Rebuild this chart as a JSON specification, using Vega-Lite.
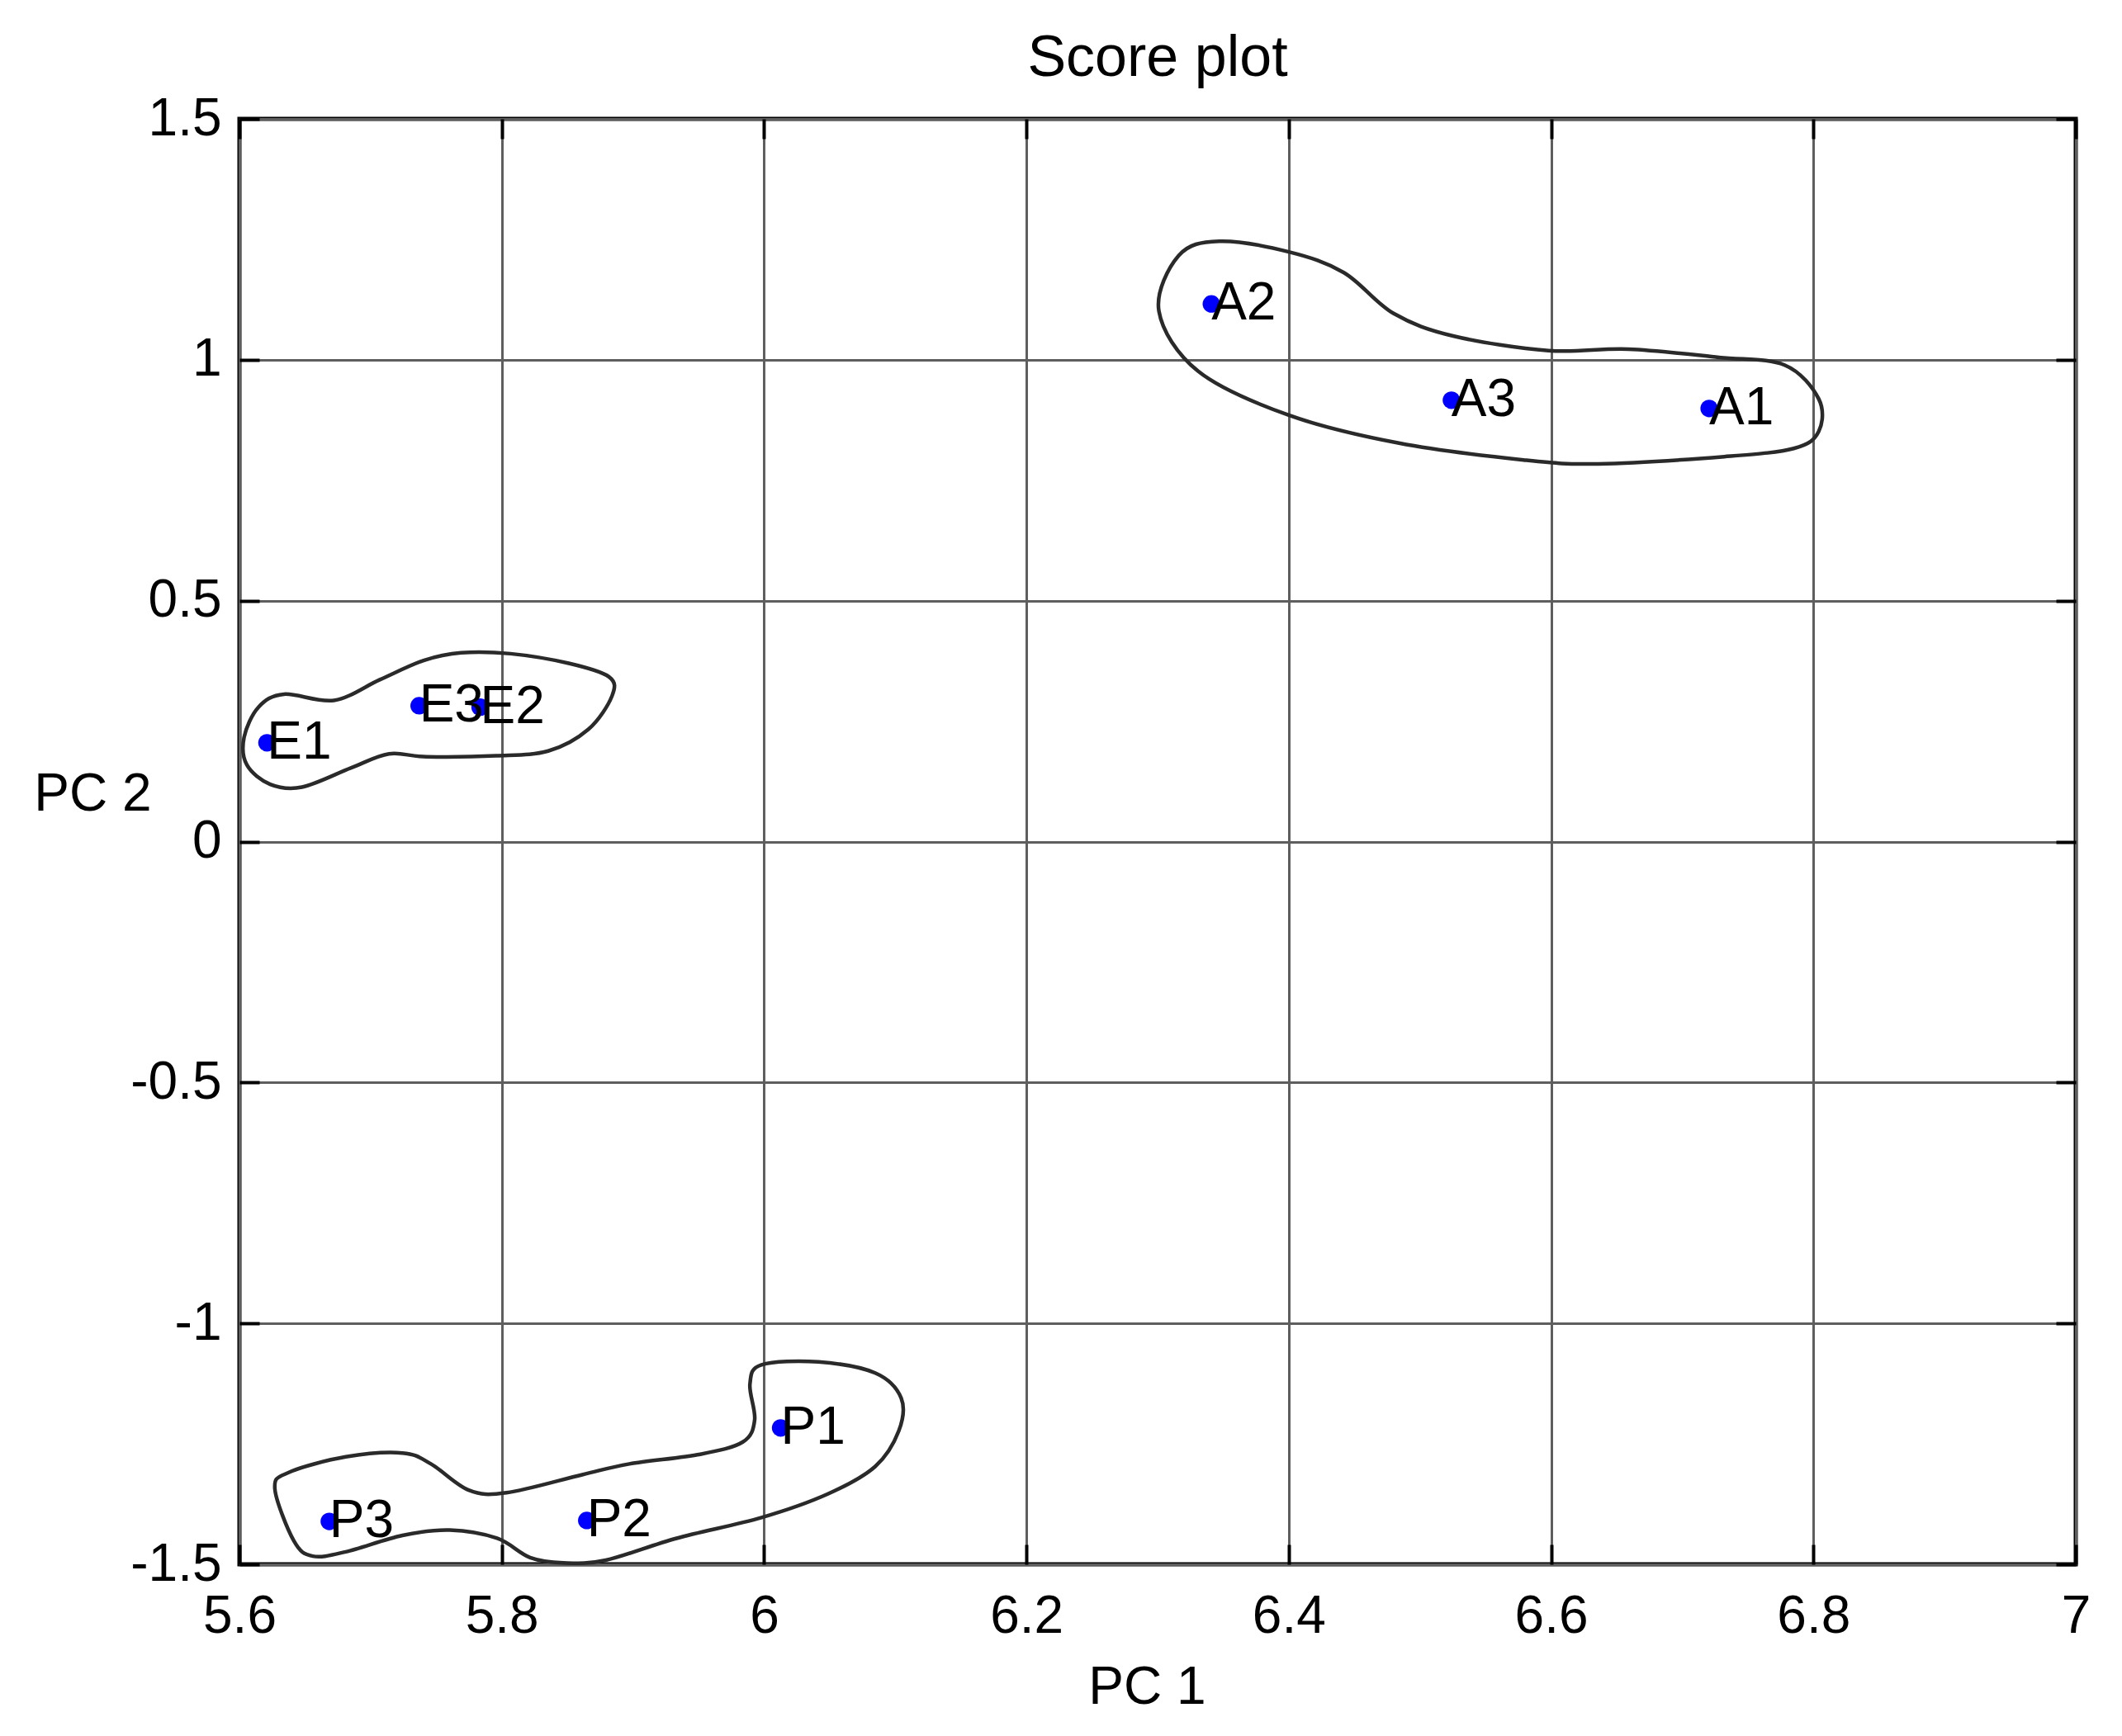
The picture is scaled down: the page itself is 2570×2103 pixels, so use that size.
{
  "$schema": "https://vega.github.io/schema/vega-lite/v6.json",
  "width": 2224,
  "height": 1751,
  "autosize": {"type": "none"},
  "padding": {"left": 290, "top": 144, "right": 56, "bottom": 208},
  "background": "white",
  "config": {
    "view": {"stroke": "black", "strokeWidth": 5},
    "axis": {"labelColor": "black", "titleColor": "black", "titleFontWeight": "normal"}
  },
  "title": {
    "text": "Score plot",
    "font": "Liberation Sans",
    "fontSize": 70,
    "fontWeight": "normal",
    "color": "black",
    "anchor": "middle",
    "frame": "group",
    "baseline": "alphabetic",
    "offset": -50
  },
  "datasets": {
    "points": [
      {"label": "A1", "pc1": 6.7205, "pc2": 0.899},
      {"label": "A2", "pc1": 6.341, "pc2": 1.116},
      {"label": "A3", "pc1": 6.524, "pc2": 0.916},
      {"label": "E1", "pc1": 5.621, "pc2": 0.205},
      {"label": "E2", "pc1": 5.7835, "pc2": 0.279},
      {"label": "E3", "pc1": 5.737, "pc2": 0.282},
      {"label": "P1", "pc1": 6.0126, "pc2": -1.217},
      {"label": "P2", "pc1": 5.8648, "pc2": -1.409},
      {"label": "P3", "pc1": 5.6685, "pc2": -1.411}
    ],
    "loops": [
      {"group": "A", "order": 1, "pc1": 6.347, "pc2": 1.246},
      {"group": "A", "order": 2, "pc1": 6.400, "pc2": 1.224},
      {"group": "A", "order": 3, "pc1": 6.442, "pc2": 1.181},
      {"group": "A", "order": 4, "pc1": 6.480, "pc2": 1.096},
      {"group": "A", "order": 5, "pc1": 6.526, "pc2": 1.049},
      {"group": "A", "order": 6, "pc1": 6.598, "pc2": 1.019},
      {"group": "A", "order": 7, "pc1": 6.659, "pc2": 1.022},
      {"group": "A", "order": 8, "pc1": 6.728, "pc2": 1.005},
      {"group": "A", "order": 9, "pc1": 6.778, "pc2": 0.989},
      {"group": "A", "order": 10, "pc1": 6.804, "pc2": 0.919},
      {"group": "A", "order": 11, "pc1": 6.804, "pc2": 0.851},
      {"group": "A", "order": 12, "pc1": 6.785, "pc2": 0.816},
      {"group": "A", "order": 13, "pc1": 6.732, "pc2": 0.799},
      {"group": "A", "order": 14, "pc1": 6.636, "pc2": 0.784},
      {"group": "A", "order": 15, "pc1": 6.579, "pc2": 0.792},
      {"group": "A", "order": 16, "pc1": 6.484, "pc2": 0.827},
      {"group": "A", "order": 17, "pc1": 6.400, "pc2": 0.885},
      {"group": "A", "order": 18, "pc1": 6.331, "pc2": 0.976},
      {"group": "A", "order": 19, "pc1": 6.301, "pc2": 1.101},
      {"group": "A", "order": 20, "pc1": 6.316, "pc2": 1.216},
      {"group": "E", "order": 1, "pc1": 5.6035, "pc2": 0.216},
      {"group": "E", "order": 2, "pc1": 5.6145, "pc2": 0.279},
      {"group": "E", "order": 3, "pc1": 5.634, "pc2": 0.306},
      {"group": "E", "order": 4, "pc1": 5.672, "pc2": 0.293},
      {"group": "E", "order": 5, "pc1": 5.707, "pc2": 0.336},
      {"group": "E", "order": 6, "pc1": 5.7404, "pc2": 0.376},
      {"group": "E", "order": 7, "pc1": 5.769, "pc2": 0.392},
      {"group": "E", "order": 8, "pc1": 5.8067, "pc2": 0.390},
      {"group": "E", "order": 9, "pc1": 5.851, "pc2": 0.370},
      {"group": "E", "order": 10, "pc1": 5.8817, "pc2": 0.342},
      {"group": "E", "order": 11, "pc1": 5.884, "pc2": 0.302},
      {"group": "E", "order": 12, "pc1": 5.866, "pc2": 0.233},
      {"group": "E", "order": 13, "pc1": 5.8354, "pc2": 0.188},
      {"group": "E", "order": 14, "pc1": 5.7956, "pc2": 0.178},
      {"group": "E", "order": 15, "pc1": 5.7426, "pc2": 0.176},
      {"group": "E", "order": 16, "pc1": 5.714, "pc2": 0.182},
      {"group": "E", "order": 17, "pc1": 5.6852, "pc2": 0.153},
      {"group": "E", "order": 18, "pc1": 5.6477, "pc2": 0.113},
      {"group": "E", "order": 19, "pc1": 5.6234, "pc2": 0.119},
      {"group": "E", "order": 20, "pc1": 5.6057, "pc2": 0.159},
      {"group": "P", "order": 1, "pc1": 5.998, "pc2": -1.086},
      {"group": "P", "order": 2, "pc1": 6.0414, "pc2": -1.080},
      {"group": "P", "order": 3, "pc1": 6.0847, "pc2": -1.103},
      {"group": "P", "order": 4, "pc1": 6.1045, "pc2": -1.155},
      {"group": "P", "order": 5, "pc1": 6.1027, "pc2": -1.223},
      {"group": "P", "order": 6, "pc1": 6.0847, "pc2": -1.297},
      {"group": "P", "order": 7, "pc1": 6.0486, "pc2": -1.354},
      {"group": "P", "order": 8, "pc1": 5.998, "pc2": -1.403},
      {"group": "P", "order": 9, "pc1": 5.9333, "pc2": -1.446},
      {"group": "P", "order": 10, "pc1": 5.8793, "pc2": -1.4915},
      {"group": "P", "order": 11, "pc1": 5.8468, "pc2": -1.497},
      {"group": "P", "order": 12, "pc1": 5.8216, "pc2": -1.486},
      {"group": "P", "order": 13, "pc1": 5.7964, "pc2": -1.446},
      {"group": "P", "order": 14, "pc1": 5.7604, "pc2": -1.429},
      {"group": "P", "order": 15, "pc1": 5.7243, "pc2": -1.440},
      {"group": "P", "order": 16, "pc1": 5.6811, "pc2": -1.474},
      {"group": "P", "order": 17, "pc1": 5.6559, "pc2": -1.483},
      {"group": "P", "order": 18, "pc1": 5.6415, "pc2": -1.4515},
      {"group": "P", "order": 19, "pc1": 5.627, "pc2": -1.343},
      {"group": "P", "order": 20, "pc1": 5.6379, "pc2": -1.309},
      {"group": "P", "order": 21, "pc1": 5.6811, "pc2": -1.277},
      {"group": "P", "order": 22, "pc1": 5.7243, "pc2": -1.269},
      {"group": "P", "order": 23, "pc1": 5.746, "pc2": -1.2916},
      {"group": "P", "order": 24, "pc1": 5.7748, "pc2": -1.346},
      {"group": "P", "order": 25, "pc1": 5.8036, "pc2": -1.3515},
      {"group": "P", "order": 26, "pc1": 5.8613, "pc2": -1.314},
      {"group": "P", "order": 27, "pc1": 5.8973, "pc2": -1.2916},
      {"group": "P", "order": 28, "pc1": 5.9513, "pc2": -1.2716},
      {"group": "P", "order": 29, "pc1": 5.9838, "pc2": -1.246},
      {"group": "P", "order": 30, "pc1": 5.9928, "pc2": -1.200},
      {"group": "P", "order": 31, "pc1": 5.9892, "pc2": -1.126}
    ]
  },
  "resolve": {"axis": {"x": "independent", "y": "independent"}},
  "layer": [
    {
      "data": {"name": "loops"},
      "mark": {"type": "line", "interpolate": "cardinal-closed", "color": "#2a2a2a", "strokeWidth": 4.5},
      "encoding": {
        "x": {
          "field": "pc1", "type": "quantitative",
          "scale": {"domain": [5.6, 7], "nice": false, "zero": false},
          "axis": {
            "orient": "bottom",
            "values": [5.6, 5.8, 6, 6.2, 6.4, 6.6, 6.8, 7],
            "labelExpr": "'' + datum.value",
            "grid": true, "gridColor": "#5e5e5e", "gridWidth": 3,
            "domain": false,
            "tickSize": -24, "tickColor": "black", "tickWidth": 4,
            "labelFont": "Liberation Sans",
            "labelFontSize": 64, "labelPadding": 106, "labelBaseline": "alphabetic",
            "labelFlush": false, "labelOverlap": false,
            "title": "PC 1",
            "titleFont": "Liberation Sans",
            "titleFontSize": 64, "titleX": 1099, "titleY": 168,
            "titleAlign": "center", "titleBaseline": "alphabetic"
          }
        },
        "y": {
          "field": "pc2", "type": "quantitative",
          "scale": {"domain": [-1.5, 1.5], "nice": false, "zero": false},
          "axis": {
            "orient": "left",
            "values": [-1.5, -1, -0.5, 0, 0.5, 1, 1.5],
            "labelExpr": "'' + datum.value",
            "grid": true, "gridColor": "#5e5e5e", "gridWidth": 3,
            "domain": false,
            "tickSize": -24, "tickColor": "black", "tickWidth": 4,
            "labelFont": "Liberation Sans",
            "labelFontSize": 64, "labelPadding": 46,
            "labelFlush": false, "labelOverlap": false,
            "title": "PC 2",
            "titleFont": "Liberation Sans",
            "titleFontSize": 64, "titleAngle": 0, "titleX": -178, "titleY": 818,
            "titleAlign": "center", "titleBaseline": "middle"
          }
        },
        "detail": {"field": "group", "type": "nominal"},
        "order": {"field": "order", "type": "quantitative"}
      }
    },
    {
      "data": {"name": "points"},
      "mark": {"type": "circle", "color": "#0000ff", "opacity": 1, "size": 450},
      "encoding": {
        "x": {
          "field": "pc1", "type": "quantitative",
          "axis": {
            "orient": "top",
            "values": [5.6, 5.8, 6, 6.2, 6.4, 6.6, 6.8, 7],
            "labels": false, "grid": false, "domain": false, "title": null,
            "tickSize": -24, "tickColor": "black", "tickWidth": 4
          }
        },
        "y": {
          "field": "pc2", "type": "quantitative",
          "axis": {
            "orient": "right",
            "values": [-1.5, -1, -0.5, 0, 0.5, 1, 1.5],
            "labels": false, "grid": false, "domain": false, "title": null,
            "tickSize": -24, "tickColor": "black", "tickWidth": 4
          }
        }
      }
    },
    {
      "data": {"name": "points"},
      "mark": {
        "type": "text", "align": "left", "baseline": "middle", "dx": 0,
        "font": "Liberation Sans",
        "fontSize": 64, "color": "black"
      },
      "encoding": {
        "x": {"field": "pc1", "type": "quantitative", "axis": null},
        "y": {"field": "pc2", "type": "quantitative", "axis": null},
        "text": {"field": "label", "type": "nominal"}
      }
    }
  ]
}
